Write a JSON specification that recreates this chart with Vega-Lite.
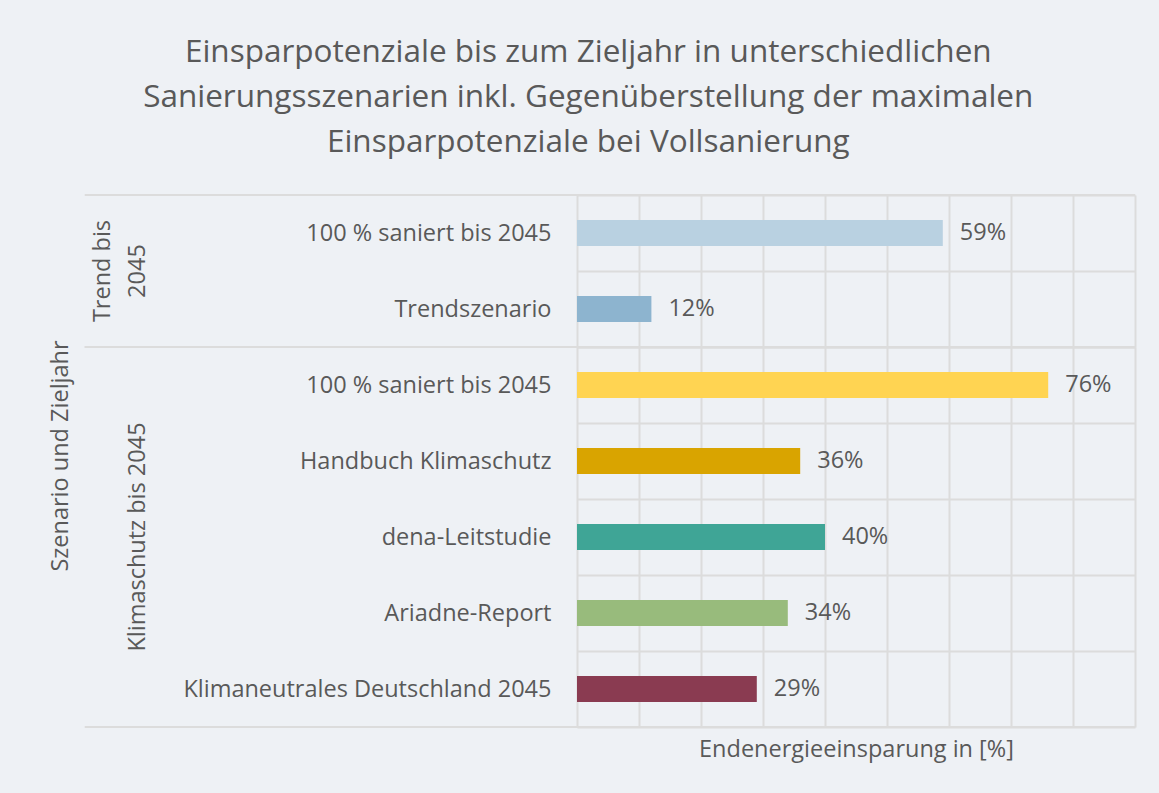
{
  "$schema": "https://vega.github.io/schema/vega-lite/v6.json",
  "background": "#eef1f5",
  "padding": {"left": 48, "top": 36, "right": 24, "bottom": 36},
  "bounds": "flush",
  "title": {
    "text": ["Einsparpotenziale bis zum Zieljahr in unterschiedlichen", "Sanierungsszenarien inkl. Gegenüberstellung der maximalen", "Einsparpotenziale bei Vollsanierung"],
    "fontSize": 31.5, "font": "Open Sans", "fontWeight": "normal", "color": "#595959",
    "lineHeight": 45, "anchor": "middle", "offset": 25, "dx": -4
  },
  "data": {"values": [
    {"group": "Trend bis 2045", "scenario": "100 % saniert bis 2045", "id": "T1", "value": 0.59},
    {"group": "Trend bis 2045", "scenario": "Trendszenario", "id": "T2", "value": 0.12},
    {"group": "Klimaschutz bis 2045", "scenario": "100 % saniert bis 2045", "id": "K1", "value": 0.76},
    {"group": "Klimaschutz bis 2045", "scenario": "Handbuch Klimaschutz", "id": "K2", "value": 0.36},
    {"group": "Klimaschutz bis 2045", "scenario": "dena-Leitstudie", "id": "K3", "value": 0.40},
    {"group": "Klimaschutz bis 2045", "scenario": "Ariadne-Report", "id": "K4", "value": 0.34},
    {"group": "Klimaschutz bis 2045", "scenario": "Klimaneutrales Deutschland 2045", "id": "K5", "value": 0.29}
  ]},
  "facet": {
    "row": {
      "field": "group", "type": "nominal",
      "sort": ["Trend bis 2045", "Klimaschutz bis 2045"],
      "title": "Szenario und Zieljahr",
      "header": {
        "labelAngle": -90, "labelOrient": "left", "labelPadding": 416,
        "labelExpr": "datum.value == 'Trend bis 2045' ? ['Trend bis', '2045'] : datum.value",
        "labelFontSize": 23.5, "labelFont": "Open Sans", "labelColor": "#595959", "labelLineHeight": 35,
        "titleOrient": "left", "titleAngle": -90, "titleFontSize": 23.5, "titleFont": "Open Sans",
        "titleFontWeight": "normal", "titleColor": "#595959", "titlePadding": -16
      }
    }
  },
  "spacing": 0,
  "resolve": {"scale": {"y": "independent"}},
  "spec": {
    "width": 558,
    "height": {"step": 76},
    "transform": [
      {"window": [{"op": "row_number", "as": "rn"}, {"op": "count", "as": "n"}], "groupby": ["group"], "frame": [null, null]}
    ],
    "layer": [
      {
        "mark": {"type": "bar", "height": {"band": 0.345}},
        "encoding": {
          "y": {"field": "scenario", "type": "nominal", "sort": null,
            "scale": {"paddingInner": 0, "paddingOuter": 0},
            "axis": {"title": null, "ticks": false, "domain": false, "labelPadding": 26, "labelFontSize": 23.5,
              "labelFont": "Open Sans", "labelColor": "#595959", "labelLimit": 600,
              "grid": true, "tickBand": "extent", "gridColor": "#dcdcdc", "gridWidth": 2}},
          "x": {"field": "value", "type": "quantitative",
            "scale": {"domain": [0, 0.9], "nice": false},
            "axis": {"values": [0, 0.1, 0.2, 0.3, 0.4, 0.5, 0.6, 0.7, 0.8, 0.9], "labels": false, "ticks": false, "domain": false,
              "grid": true, "gridColor": "#dcdcdc", "gridWidth": 2,
              "title": "Endenergieeinsparung in [%]", "titleFontSize": 23.5, "titleFont": "Open Sans",
              "titleFontWeight": "normal", "titleColor": "#595959", "titlePadding": 10}},
          "color": {"field": "id", "type": "nominal", "legend": null,
            "scale": {"domain": ["T1", "T2", "K1", "K2", "K3", "K4", "K5"],
              "range": ["#b9d1e1", "#8db4cf", "#ffd452", "#d9a400", "#3fa596", "#98bb7c", "#8a3b51"]}}
        }
      },
      {
        "mark": {"type": "text", "align": "left", "dx": 17, "fontSize": 23.5, "font": "Open Sans", "color": "#595959"},
        "encoding": {
          "y": {"field": "scenario", "type": "nominal", "sort": null},
          "x": {"field": "value", "type": "quantitative"},
          "text": {"field": "value", "type": "quantitative", "format": ".0%"}
        }
      },
      {
        "transform": [{"filter": "datum.rn == 1"}],
        "mark": {"type": "rule", "color": "#dcdcdc", "strokeWidth": 2},
        "encoding": {
          "y": {"field": "scenario", "type": "nominal", "sort": null, "bandPosition": 0},
          "x": {"datum": -0.794},
          "x2": {"datum": 0.9}
        }
      },
      {
        "transform": [{"filter": "datum.rn == datum.n"}],
        "mark": {"type": "rule", "color": "#dcdcdc", "strokeWidth": 2},
        "encoding": {
          "y": {"field": "scenario", "type": "nominal", "sort": null, "bandPosition": 1},
          "x": {"datum": -0.794},
          "x2": {"datum": 0.9}
        }
      }
    ]
  },
  "config": {"view": {"stroke": null}}
}
